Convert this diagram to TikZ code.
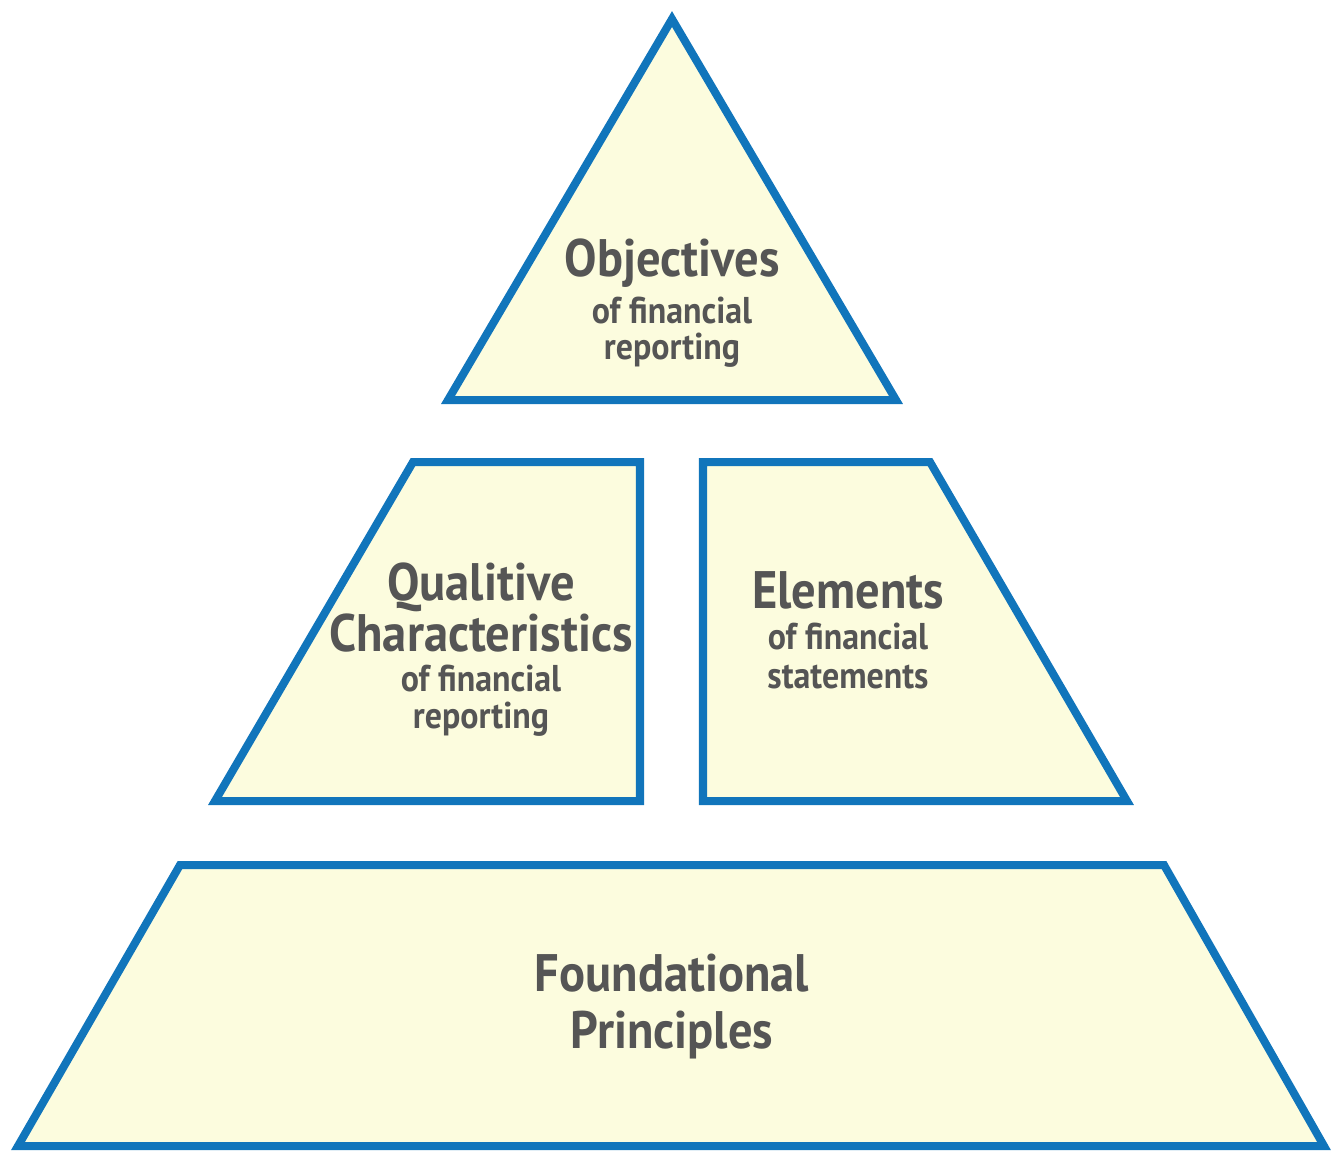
\documentclass[tikz,border=0pt]{standalone}
\usepackage{fontspec}
\newfontfamily\tierfont[FakeStretch=0.92]{PT Sans}
\newfontfamily\tiersubfont[FakeStretch=0.91]{PT Sans}
\definecolor{tierblue}{HTML}{1175BB}
\definecolor{tierfill}{HTML}{FCFCDE}
\definecolor{tiertext}{HTML}{555555}
\tikzset{
  tier/.style={draw=tierblue, fill=tierfill, line width=0.08cm, line join=miter},
  tiertitle/.style={text=tiertext, font=\tierfont\bfseries\fontsize{15}{18}\selectfont, inner sep=0pt},
  tiersub/.style={text=tiertext, font=\tiersubfont\bfseries\fontsize{10.6}{12}\selectfont, inner sep=0pt},
}
\begin{document}
\begin{tikzpicture}[x=0.01cm, y=-0.01cm]
   \useasboundingbox (0,0) rectangle (1338,1151);
   % top triangle
   \draw[tier] (672,19) -- (896,400) -- (448,400) -- cycle;
   % middle trapezoids
   \draw[tier] (413,462) -- (640,462) -- (640,801) -- (215,801) -- cycle;
   \draw[tier] (703,462) -- (930,462) -- (1127,801) -- (703,801) -- cycle;
   % bottom trapezoid
   \draw[tier] (180,865) -- (1164,865) -- (1324,1146) -- (18,1146) -- cycle;
   % labels
   \node[tiertitle] (obj) at (672,263) {Objectives};
   \node[tiersub] (objsub) at (672,311) {of financial};
   \node[tiersub] (objsub2) at (672,350) {reporting};
   \node[tiertitle] (qual) at (481,587) {Qualitive};
   \node[tiertitle] (qual2) at (481,633) {Characteristics};
   \node[tiersub] (qualsub) at (481,679) {of financial};
   \node[tiersub] (qualsub2) at (481,719) {reporting};
   \node[tiertitle] (elem) at (848,590) {Elements};
   \node[tiersub] (elemsub) at (848,637) {of financial};
   \node[tiersub] (elemsub2) at (848,677) {statements};
   \node[tiertitle] (found) at (672,973) {Foundational};
   \node[tiertitle] (found2) at (672,1035) {Principles};
\end{tikzpicture}
\end{document}
